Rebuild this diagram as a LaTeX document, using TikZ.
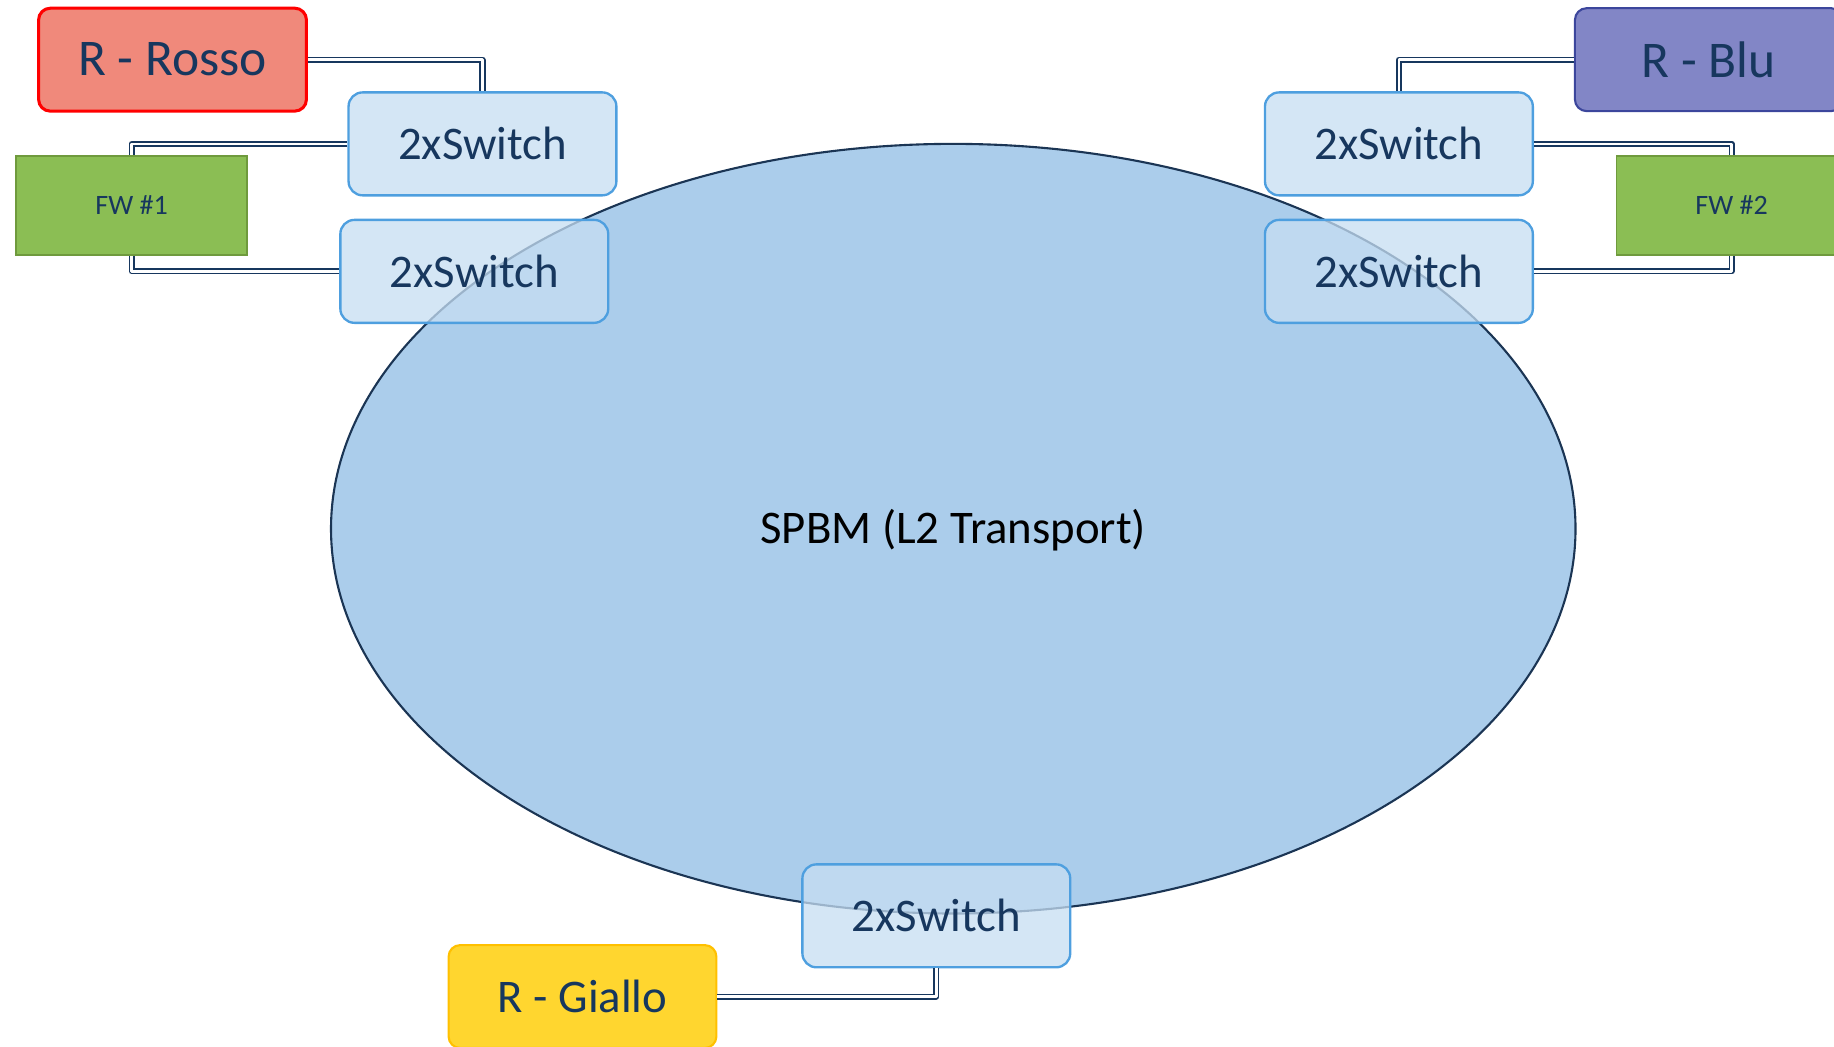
\documentclass[tikz,border=0pt]{standalone}
\usepackage{fontspec}
\setmainfont{Carlito}
\definecolor{navy}{HTML}{17375E}
\definecolor{swborder}{HTML}{4E9FDF}
\definecolor{swfill}{HTML}{C6DEF2}
\definecolor{ellfill}{HTML}{ABCDEB}
\definecolor{ellborder}{HTML}{1B3554}
\definecolor{rossofill}{HTML}{F0897B}
\definecolor{rossoborder}{HTML}{FF0000}
\definecolor{blufill}{HTML}{8286C6}
\definecolor{bluborder}{HTML}{3C469C}
\definecolor{fwfill}{HTML}{8BBE54}
\definecolor{fwborder}{HTML}{6F9A3D}
\definecolor{giallofill}{HTML}{FFD62F}
\definecolor{gialloborder}{HTML}{FFC000}
\begin{document}
\begin{tikzpicture}[x=0.5pt,y=-0.5pt,
  sw/.style={draw=swborder, line width=1pt, fill=swfill, fill opacity=0.75, text opacity=1,
    rounded corners=6pt, minimum width=114.5pt, minimum height=44pt, inner sep=0pt,
    font=\fontsize{20}{24}\selectfont, text=navy},
  router/.style={line width=1pt, rounded corners=5pt, minimum width=114.5pt, minimum height=44pt,
    inner sep=0pt, text=navy},
  fw/.style={draw=fwborder, fill=fwfill, line width=0.8pt, minimum width=98.5pt, minimum height=42.5pt,
    inner sep=0pt, text=navy, font=\fontsize{12}{14}\selectfont},
  link/.style={draw=navy, line width=0.75pt, double=white, double distance=1.1pt, line join=round}
]
\useasboundingbox (0,0) rectangle (1568,895);
\clip (0,0) rectangle (1568,895);
% core
\path[fill=ellfill, draw=ellborder, line width=0.9pt] (815,452) ellipse [x radius=266pt, y radius=164.5pt];
\node[font=\fontsize{20}{24}\selectfont, text=black] (spbm) at (815,453) {SPBM (L2 Transport)};
% switches
\node[sw] (sw1) at (412.5,123) {2xSwitch};
\node[sw] (sw2) at (405.5,232) {2xSwitch};
\node[sw] (sw3) at (1196,123) {2xSwitch};
\node[sw] (sw4) at (1196,232) {2xSwitch};
\node[sw] (sw5) at (800.5,783) {2xSwitch};
% routers
\node[router, draw=rossoborder, fill=rossofill, line width=1.3pt, font=\fontsize{22}{26}\selectfont] (rosso) at (147.5,51) {R - Rosso};
\node[router, draw=bluborder, fill=blufill, line width=0.9pt, font=\fontsize{22}{26}\selectfont] (blu) at (1461,51) {R - Blu};
\node[router, draw=gialloborder, fill=giallofill, line width=0.9pt, font=\fontsize{20}{24}\selectfont] (giallo) at (498,852) {R - Giallo};
% firewalls
\node[fw] (fw1) at (112.5,175.5) {FW \#1};
\node[fw] (fw2) at (1480.5,175.5) {FW \#2};
% links
\draw[link] (rosso.east) -| (sw1.north);
\draw[link] (sw1.west) -| (fw1.north);
\draw[link] (sw2.west) -| (fw1.south);
\draw[link] (blu.west) -| (sw3.north);
\draw[link] (sw3.east) -| (fw2.north);
\draw[link] (sw4.east) -| (fw2.south);
\draw[link] (sw5.south) |- (giallo.east);
\end{tikzpicture}
\end{document}
